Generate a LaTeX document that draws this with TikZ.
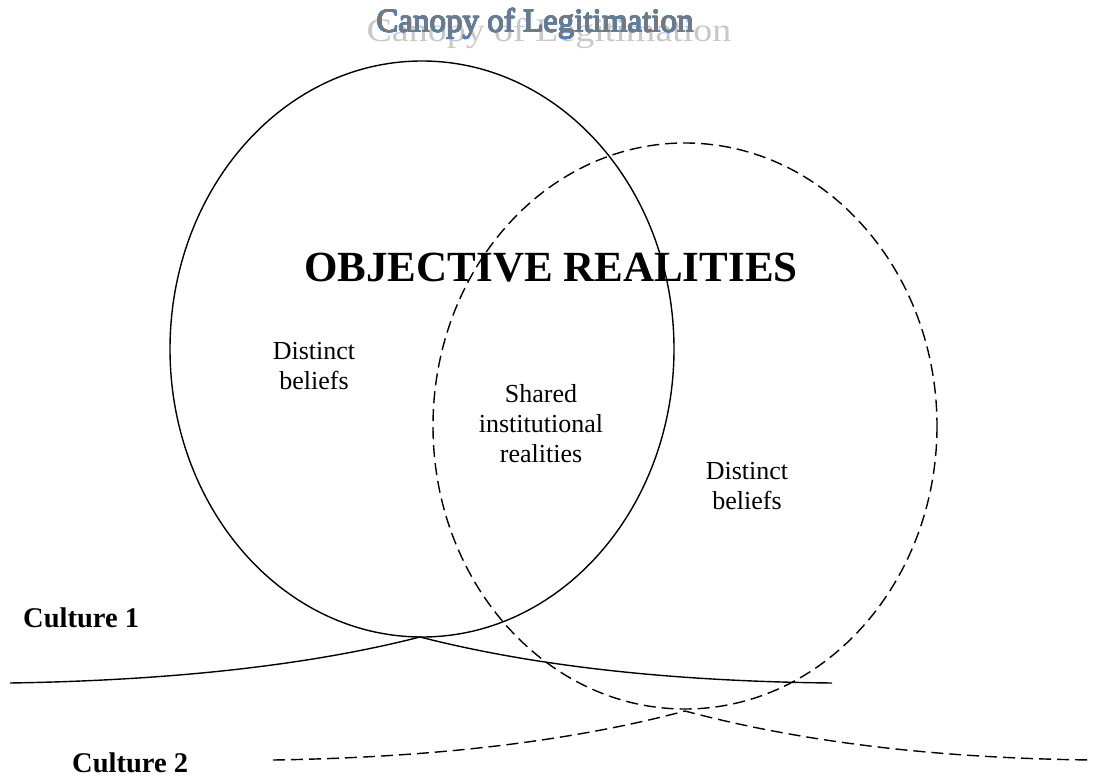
\documentclass[tikz,border=0pt]{standalone}
\usepackage{fontspec}
\setmainfont{Liberation Serif}
\usepackage{contour}
\contourlength{0.45pt}
\usetikzlibrary{positioning}
\definecolor{titlegray}{RGB}{120,120,120}
\definecolor{titleblue}{RGB}{79,129,189}
\definecolor{shadowgray}{RGB}{200,200,200}

\begin{document}
\begin{tikzpicture}[x=1pt, y=-1pt,
		realm/.style={line width=1.4pt},
		dashrealm/.style={line width=1.4pt, dash pattern=on 12pt off 6pt},
		belief/.style={align=center, inner sep=0pt, font=\fontsize{26}{30}\selectfont},
		culture/.style={anchor=base west, inner sep=0pt, font=\fontsize{28.5}{34}\selectfont\bfseries}]
				\useasboundingbox (0,0) rectangle (1093,778);
				
				% title with its shadow
				\node[anchor=base, inner sep=0pt, xscale=1.15, text=shadowgray, font=\fontsize{33}{40}\selectfont] (shadow) at (549,42) {Canopy of Legitimation};
				\node[anchor=base, inner sep=0pt, text=titlegray, font=\fontsize{33}{40}\selectfont] (title) at (535,32) {\contour{titleblue}{Canopy of Legitimation}};
				
				% the two cultures
				\coordinate (C1) at (422,349);
				\coordinate (C2) at (685,426);
				\coordinate (peak1) at (420,637);
				\coordinate (peak2) at (685,711);
				\draw[realm] (C1) ellipse [x radius=252, y radius=288];
				\draw[dashrealm] (C2) ellipse [x radius=252, y radius=283];
				
				\draw[realm] (10,683) .. controls (200,680) and (330,660) .. (peak1) .. controls (510,660) and (640,681) .. (832,683);
				\draw[dashrealm] (273,760) .. controls (465,757) and (595,735) .. (peak2) .. controls (775,735) and (905,758) .. (1093,760);
				
				\node[anchor=base, inner sep=0pt, font=\fontsize{43}{50}\selectfont\bfseries] (obj) at (551,282) {OBJECTIVE REALITIES};
				
				\node[belief] (left) at (314,366) {Distinct\\beliefs};
				\node[belief] (shared) at (541,424) {Shared\\institutional\\realities};
				\node[belief] (right) at (747,486) {Distinct\\beliefs};
				
				\node[culture] (cult1) at (23,627) {Culture 1};
				\node[culture] (cult2) at (72,772) {Culture 2};
			\end{tikzpicture}
\end{document}
